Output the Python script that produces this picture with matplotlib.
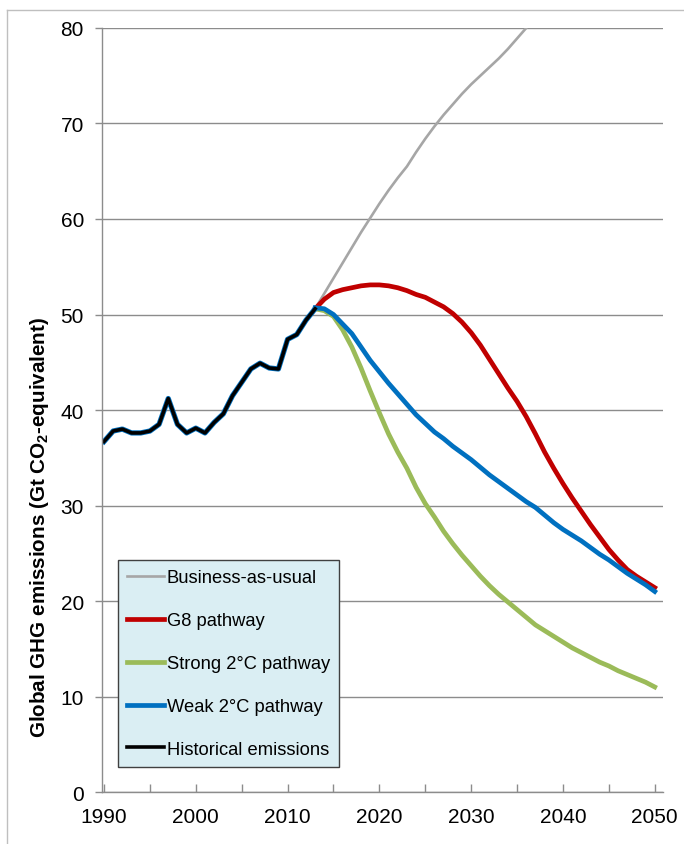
import matplotlib
matplotlib.use("Agg")
import matplotlib.pyplot as plt
import matplotlib.patheffects as pe
from matplotlib.lines import Line2D
from matplotlib.ticker import MultipleLocator

plt.rcParams['font.family'] = ['Liberation Sans', 'DejaVu Sans']
plt.rcParams['mathtext.fontset'] = 'custom'
plt.rcParams['mathtext.rm'] = 'Liberation Sans'
plt.rcParams['mathtext.bf'] = 'Liberation Sans:bold'

# ---- data ----
hist_years = list(range(1990, 2014))
hist_vals = [36.7, 37.8, 38.0, 37.6, 37.6, 37.8, 38.5, 41.2, 38.5, 37.6, 38.1, 37.6,
             38.7, 39.6, 41.5, 42.9, 44.3, 44.9, 44.4, 44.3, 47.4, 47.9, 49.4, 50.6]

scen_years = list(range(2013, 2051))
bau_years = list(range(2013, 2038))
bau_vals = [50.6, 52.2, 53.8, 55.4, 57.0, 58.6, 60.1, 61.6, 63.0, 64.3, 65.5, 67.0, 68.4,
            69.7, 70.9, 72.0, 73.1, 74.1, 75.0, 75.9, 76.8, 77.8, 78.9, 80.0, 81.0]
g8_vals = [50.6, 51.6, 52.3, 52.6, 52.8, 53.0, 53.1, 53.1, 53.0, 52.8, 52.5, 52.1, 51.8,
           51.3, 50.8, 50.1, 49.2, 48.1, 46.8, 45.3, 43.8, 42.3, 40.9, 39.3, 37.5, 35.6,
           33.9, 32.3, 30.8, 29.4, 28.0, 26.7, 25.4, 24.3, 23.3, 22.6, 22.0, 21.4]
strong_vals = [50.6, 50.4, 49.8, 48.4, 46.6, 44.4, 42.0, 39.7, 37.5, 35.6, 33.9, 31.9, 30.2,
               28.8, 27.3, 26.0, 24.8, 23.7, 22.6, 21.6, 20.7, 19.9, 19.1, 18.3, 17.5, 16.9,
               16.3, 15.7, 15.1, 14.6, 14.1, 13.6, 13.2, 12.7, 12.3, 11.9, 11.5, 11.0]
weak_vals = [50.7, 50.6, 50.0, 49.0, 48.0, 46.6, 45.2, 44.0, 42.8, 41.7, 40.6, 39.5, 38.6,
             37.7, 37.0, 36.2, 35.5, 34.8, 34.0, 33.2, 32.5, 31.8, 31.1, 30.4, 29.8, 29.0,
             28.2, 27.5, 26.9, 26.3, 25.6, 24.9, 24.3, 23.6, 22.9, 22.3, 21.7, 21.0]

labels = ["Business-as-usual", "G8 pathway", "Strong 2°C pathway",
          "Weak 2°C pathway", "Historical emissions"]
colors = ["#A6A6A6", "#C00000", "#9BBB59", "#0070C0", "#000000"]
y_ticks = [0, 10, 20, 30, 40, 50, 60, 70, 80]
x_ticks = [1990, 2000, 2010, 2020, 2030, 2040, 2050]

# ---- figure ----
fig = plt.figure(figsize=(6.84, 8.45), dpi=100)
ax = fig.add_axes([0.1491, 0.0615, 0.8202, 0.9042])

h_bau, = ax.plot(bau_years, bau_vals, color=colors[0], lw=1.9)
h_g8, = ax.plot(scen_years, g8_vals, color=colors[1], lw=3.4)
h_strong, = ax.plot(scen_years, strong_vals, color=colors[2], lw=3.4)
h_weak, = ax.plot(scen_years, weak_vals, color=colors[3], lw=3.4)
ax.plot(hist_years, hist_vals, color=colors[4], lw=2.6,
        path_effects=[pe.Stroke(linewidth=3.8, foreground=colors[3]), pe.Normal()])
h_hist = Line2D([], [], color=colors[4], lw=2.6)

ax.set_xlim(1989.78, 2050.9)
ax.set_ylim(0, 80)
ax.set_yticks(y_ticks)
ax.set_xticks(x_ticks)
ax.xaxis.set_minor_locator(MultipleLocator(5))

ax.grid(axis='y', color='#8C8C8C', lw=1.0)
ax.set_axisbelow(True)
for s in ['top', 'right']:
    ax.spines[s].set_visible(False)
for s in ['left', 'bottom']:
    ax.spines[s].set_color('#8C8C8C')
    ax.spines[s].set_linewidth(1.0)

ax.tick_params(axis='y', direction='out', length=5, width=1, color='#8C8C8C',
               labelsize=15, pad=8)
ax.tick_params(axis='x', which='both', direction='in', length=6, width=1,
               color='#8C8C8C', labelsize=15, pad=11)

ax.set_ylabel(r'Global GHG emissions (Gt CO$_\mathbf{2}$-equivalent)',
              fontsize=14.9, fontweight='bold')
ax.yaxis.set_label_coords(-0.091, 0.3475)

leg = ax.legend([h_bau, h_g8, h_strong, h_weak, h_hist], labels,
                loc='lower left', bbox_to_anchor=(0.0285, 0.0327), borderaxespad=0,
                fontsize=13.2, frameon=True, fancybox=False, framealpha=1,
                facecolor='#DAEEF3', edgecolor='#404040', handlelength=2.0,
                handletextpad=0.16, labelspacing=1.41, borderpad=0.5)
leg.get_frame().set_linewidth(1.0)

# figure border (light gray)
fig.add_artist(Line2D([7/684, 7/684], [0, 1 - 11/845], transform=fig.transFigure,
                      color='#BFBFBF', lw=1))
fig.add_artist(Line2D([7/684, 1], [1 - 11/845, 1 - 11/845], transform=fig.transFigure,
                      color='#BFBFBF', lw=1))

fig.savefig('out.png', dpi=100)
